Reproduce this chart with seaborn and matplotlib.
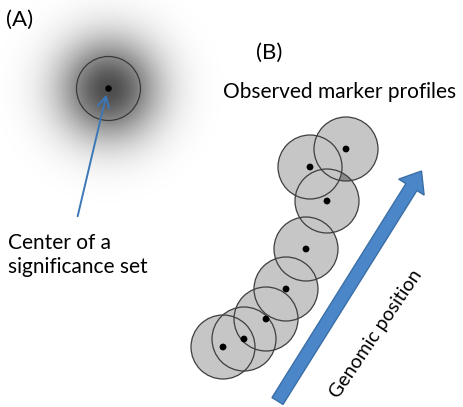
import numpy as np
import seaborn as sns
import matplotlib.pyplot as plt
from matplotlib.patches import Circle

# panel B: centres of the observed marker profiles (pixel coords, y down)
profile_x = [223, 244, 266, 286, 306, 327, 310, 346]
profile_y = [347, 339, 319, 289, 249, 201, 167, 149]
profile_r = 32

# panel A: centre of the significance set
center_x = [108.5]
center_y = [88.5]

sns.set_theme(style="white")
plt.rcParams['font.family'] = ['Lato', 'DejaVu Sans']

fig = plt.figure(figsize=(4.63, 4.07), dpi=100)
ax = fig.add_axes([0, 0, 1, 1])
ax.set_xlim(0, 463)
ax.set_ylim(407, 0)
ax.set_aspect('equal')
ax.axis('off')

# radial grey halo around the centre
gx, gy = np.meshgrid(np.arange(0, 230), np.arange(0, 210))
dist = np.hypot(gx - center_x[0], gy - center_y[0])
halo = 1 - 0.7 * np.exp(-(dist / 50) ** 2)
ax.imshow(halo, cmap='gray', vmin=0, vmax=1, extent=(0, 230, 210, 0),
          interpolation='bilinear', zorder=0)
ax.add_patch(Circle((center_x[0], center_y[0]), profile_r, fill=False,
                    ec='#3a3a3a', lw=0.9, zorder=2))
sns.scatterplot(x=center_x, y=center_y, s=22, color='black', ax=ax,
                zorder=3, edgecolor='none', legend=False)

ax.annotate('', xy=(107, 92), xytext=(77, 219),
            arrowprops=dict(arrowstyle='->,head_length=0.55,head_width=0.3',
                            color='#3c78b8', lw=1.4, mutation_scale=14))

# panel B circles: fills first, then outlines so every ring stays visible
for i, (x, y) in enumerate(zip(profile_x, profile_y)):
    if i == 6:
        continue
    ax.add_patch(Circle((x, y), profile_r, fc='#c6c6c6', ec='none', zorder=1))
dark = Circle((profile_x[7], profile_y[7]), profile_r, fc='#8c8c8c', ec='none', zorder=1.2)
ax.add_patch(dark)
clip = Circle((profile_x[5], profile_y[5]), profile_r, transform=ax.transData)
dark.set_clip_path(clip)
ax.add_patch(Circle((profile_x[6], profile_y[6]), profile_r, fc='#c6c6c6',
                    ec='none', zorder=1.4))
for x, y in zip(profile_x, profile_y):
    ax.add_patch(Circle((x, y), profile_r, fill=False, ec='#3e3e3e', lw=0.9, zorder=2))
sns.scatterplot(x=profile_x, y=profile_y, s=24, color='black', ax=ax,
                zorder=3, edgecolor='none', legend=False)

# genomic position arrow
ax.arrow(277.5, 401, 144, -230, width=13, head_width=30, head_length=19,
         length_includes_head=True, fc='#4a86c8', ec='#3b6fa6', lw=1, zorder=2)

ax.text(376, 334, 'Genomic position', rotation=56, rotation_mode='anchor',
        ha='center', va='center', fontsize=14, color='black')

ax.text(6, 26, '(A)', fontsize=16, color='black', va='baseline')
ax.text(256, 59, '(B)', fontsize=16, color='black', va='baseline')
ax.text(223, 98, 'Observed marker profiles', fontsize=15, color='black', va='baseline')
ax.text(8, 249, 'Center of a', fontsize=15, color='black', va='baseline')
ax.text(8, 273, 'significance set', fontsize=15, color='black', va='baseline')

fig.savefig('out.png', dpi=100)
